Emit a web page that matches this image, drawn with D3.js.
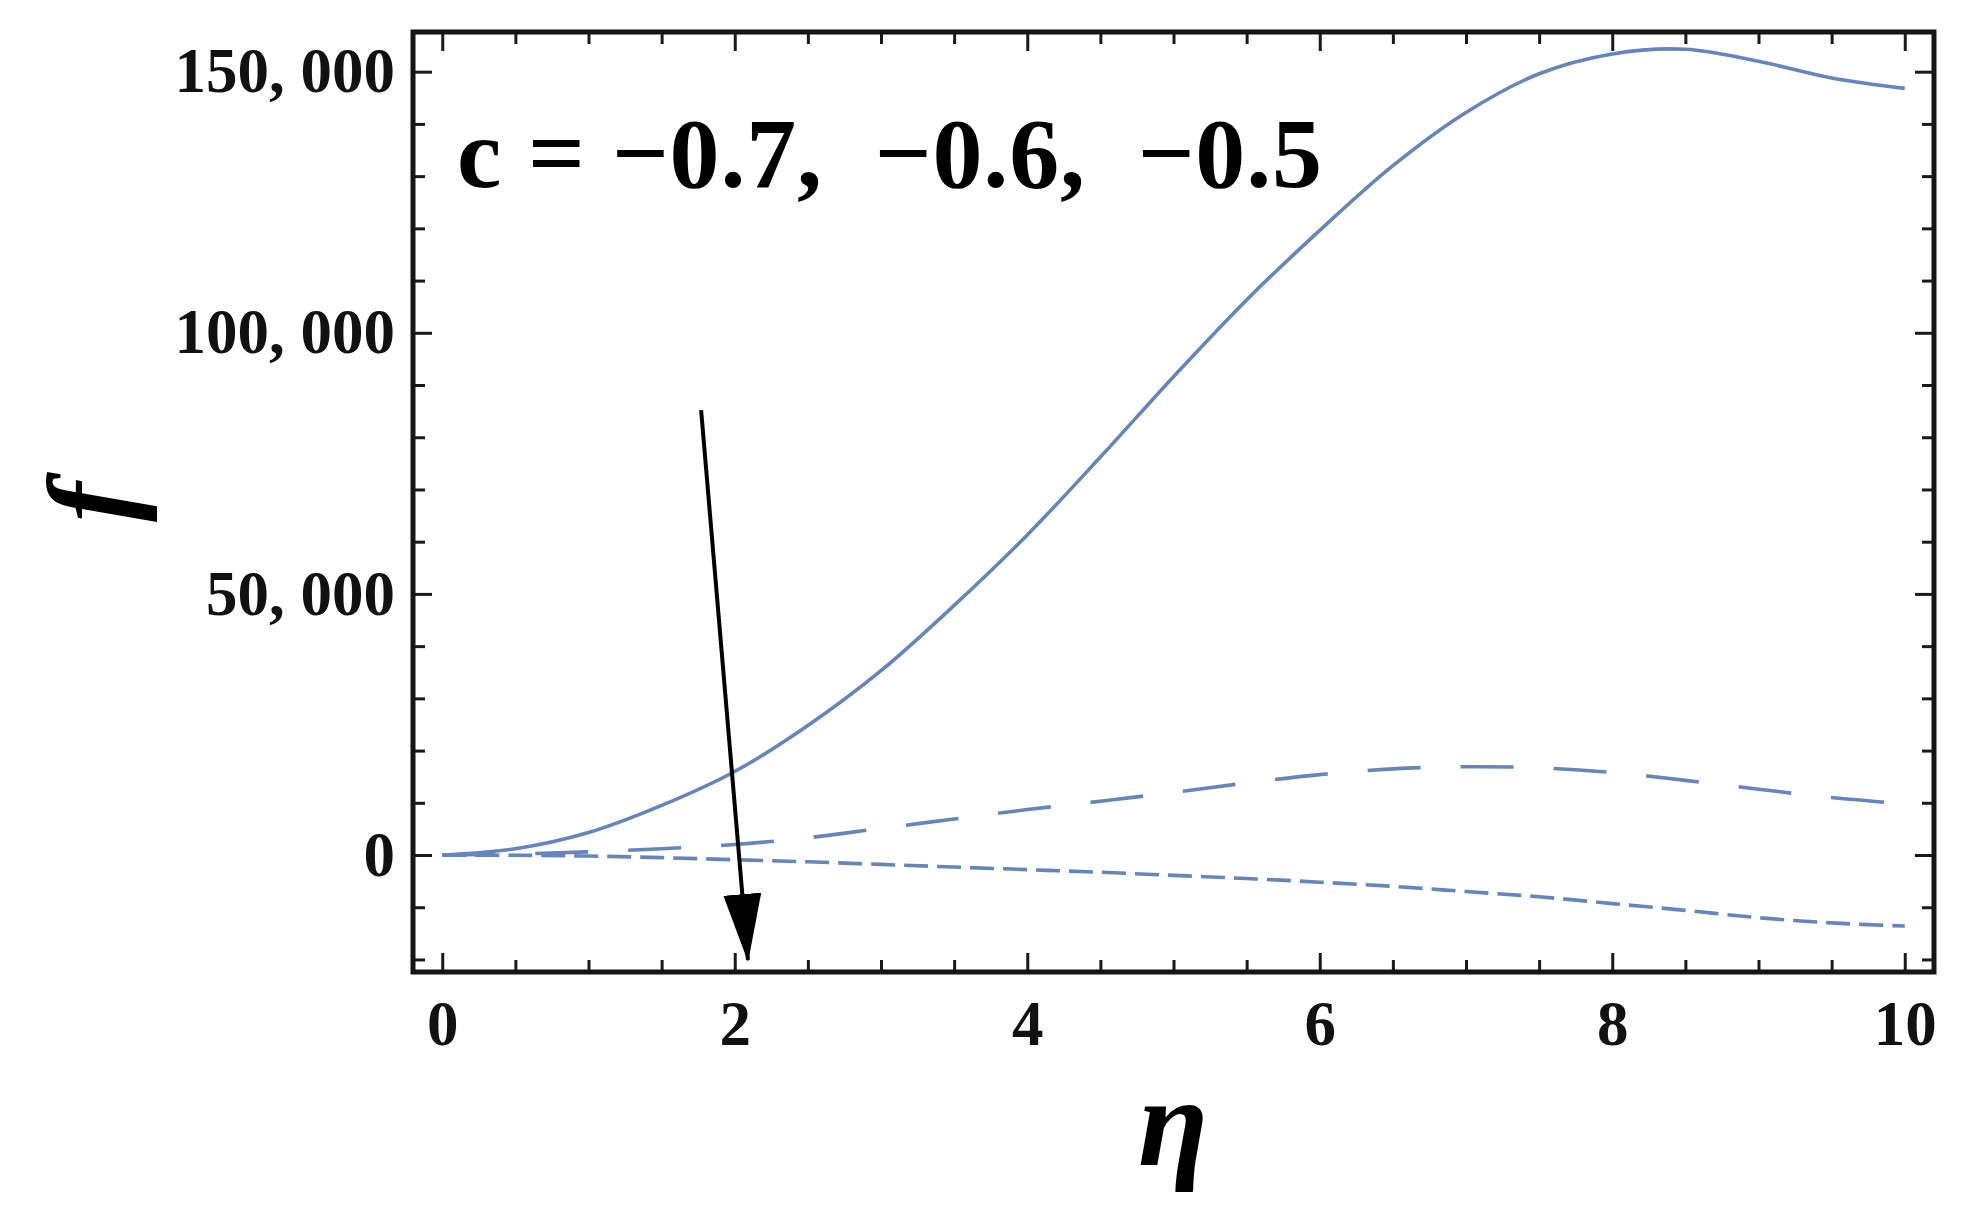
<!DOCTYPE html>
<html>
<head>
<meta charset="utf-8">
<script src="https://cdn.jsdelivr.net/npm/d3@7"></script>
<style>
  html, body { margin: 0; padding: 0; background: #fff; }
  svg { display: block; }
  .tick text { font-family: "Liberation Serif", "DejaVu Serif", serif; font-weight: bold; }
</style>
</head>
<body>
<svg width="1964" height="1218"></svg>
<script>
// data (eta step 0.5)
var eta = [0, 0.5, 1, 1.5, 2, 2.5, 3, 3.5, 4, 4.5, 5, 5.5, 6, 6.5, 7, 7.5, 8, 8.5, 9, 9.5, 10]
var fSolid = [0, 1200, 4300, 9500, 16000, 24800, 35300, 47800, 61300, 76200, 91600, 106300, 119600, 132000, 142200, 149600, 153400, 154300, 152000, 148800, 146800]
var fLongDash = [0, 200, 600, 1200, 2000, 3300, 5100, 6900, 8700, 10300, 12000, 13800, 15400, 16500, 16900, 16700, 15800, 14300, 12600, 11000, 9800]
var fShortDash = [0, -50, -200, -500, -900, -1300, -1800, -2300, -2800, -3300, -3900, -4500, -5200, -6000, -7000, -8000, -9300, -10600, -12000, -13000, -13600]
var xTicks = [0, 2, 4, 6, 8, 10]
var yTicks = [0, 50000, 100000, 150000]
var label = 'c = \u22120.7,  \u22120.6,  \u22120.5'

var svg = d3.select('svg')
// plot frame edges (note: "top" is reserved on window)
var pLeft = 413, pRight = 1934, pTop = 32, pBottom = 972

var x = d3.scaleLinear().domain([-0.2, 10.2]).range([pLeft, pRight])
var y = d3.scaleLinear().domain([-22400, 157600]).range([pBottom, pTop])

var xMinor = d3.range(0, 10.01, 0.5).filter(function (d) { return d % 2 !== 0 })
var yMinor = d3.range(-20000, 150001, 10000).filter(function (d) { return d % 50000 !== 0 })

function fmt(v) {
    return d3.format(',')(v).replace(',', ', ')
}

function styleAxis(g) {
    g.select('.domain').remove()
    g.selectAll('.tick line').attr('stroke', '#1a1a1a').attr('stroke-width', 3)
    g.selectAll('.tick text').attr('fill', '#111').attr('font-size', 63)
}

// bottom
svg.append('g').attr('transform', 'translate(0,' + pBottom + ')')
    .call(d3.axisBottom(x).tickValues(xTicks).tickFormat(d3.format('d')).tickSizeInner(-19).tickSizeOuter(0).tickPadding(28))
    .call(styleAxis)
svg.append('g').attr('transform', 'translate(0,' + pBottom + ')')
    .call(d3.axisBottom(x).tickValues(xMinor).tickFormat('').tickSizeInner(-12).tickSizeOuter(0))
    .call(styleAxis)
// top
svg.append('g').attr('transform', 'translate(0,' + pTop + ')')
    .call(d3.axisTop(x).tickValues(xTicks).tickFormat('').tickSizeInner(-19).tickSizeOuter(0))
    .call(styleAxis)
svg.append('g').attr('transform', 'translate(0,' + pTop + ')')
    .call(d3.axisTop(x).tickValues(xMinor).tickFormat('').tickSizeInner(-12).tickSizeOuter(0))
    .call(styleAxis)
// left
svg.append('g').attr('transform', 'translate(' + pLeft + ',0)')
    .call(d3.axisLeft(y).tickValues(yTicks).tickFormat(fmt).tickSizeInner(-19).tickSizeOuter(0).tickPadding(18))
    .call(styleAxis)
svg.append('g').attr('transform', 'translate(' + pLeft + ',0)')
    .call(d3.axisLeft(y).tickValues(yMinor).tickFormat('').tickSizeInner(-12).tickSizeOuter(0))
    .call(styleAxis)
// right
svg.append('g').attr('transform', 'translate(' + pRight + ',0)')
    .call(d3.axisRight(y).tickValues(yTicks).tickFormat('').tickSizeInner(-19).tickSizeOuter(0))
    .call(styleAxis)
svg.append('g').attr('transform', 'translate(' + pRight + ',0)')
    .call(d3.axisRight(y).tickValues(yMinor).tickFormat('').tickSizeInner(-12).tickSizeOuter(0))
    .call(styleAxis)

// curves
var line = d3.line().curve(d3.curveCatmullRom)
    .x(function (d) { return x(d[0]) })
    .y(function (d) { return y(d[1]) })

var series = [
    { vals: fSolid, dash: null },
    { vals: fLongDash, dash: '53,40' },
    { vals: fShortDash, dash: '24,9' }
]
svg.append('g').selectAll('path').data(series).enter().append('path')
    .attr('d', function (s) { return line(eta.map(function (e, i) { return [e, s.vals[i]] })) })
    .attr('fill', 'none')
    .attr('stroke', '#6486bd')
    .attr('stroke-width', 3.6)
    .attr('stroke-dasharray', function (s) { return s.dash })

// frame
svg.append('rect')
    .attr('x', pLeft).attr('y', pTop)
    .attr('width', pRight - pLeft).attr('height', pBottom - pTop)
    .attr('fill', 'none').attr('stroke', '#151515').attr('stroke-width', 5)

// arrow
svg.append('defs').append('marker')
    .attr('id', 'head').attr('markerUnits', 'userSpaceOnUse')
    .attr('viewBox', '0 0 68 40').attr('refX', 66).attr('refY', 20)
    .attr('markerWidth', 68).attr('markerHeight', 40).attr('orient', 'auto')
    .append('path').attr('d', 'M0,1 L68,20 L0,39 Z').attr('fill', '#000')
svg.append('line')
    .attr('x1', x(1.77)).attr('y1', y(85200))
    .attr('x2', x(2.09)).attr('y2', y(-20100))
    .attr('stroke', '#000').attr('stroke-width', 4)
    .attr('marker-end', 'url(#head)')

// annotation
svg.append('text')
    .attr('x', 457).attr('y', 187)
    .attr('font-family', '"Liberation Serif", serif').attr('font-weight', 'bold')
    .attr('font-size', 100).attr('fill', '#000')
    .attr('textLength', 865).attr('lengthAdjust', 'spacing')
    .style('white-space', 'pre')
    .text(label)

// axis titles
svg.append('text')
    .attr('transform', 'translate(95,502) rotate(-90)')
    .attr('text-anchor', 'middle').attr('dy', '0.3em')
    .attr('font-family', '"Liberation Serif", serif').attr('font-style', 'italic').attr('font-weight', 'bold')
    .attr('font-size', 120).attr('fill', '#000')
    .text('f')
svg.append('text')
    .attr('x', 1173).attr('y', 1165)
    .attr('text-anchor', 'middle')
    .attr('font-family', '"Liberation Serif", serif').attr('font-style', 'italic').attr('font-weight', 'bold')
    .attr('font-size', 128).attr('fill', '#000')
    .text('\u03b7')
</script>
</body>
</html>
